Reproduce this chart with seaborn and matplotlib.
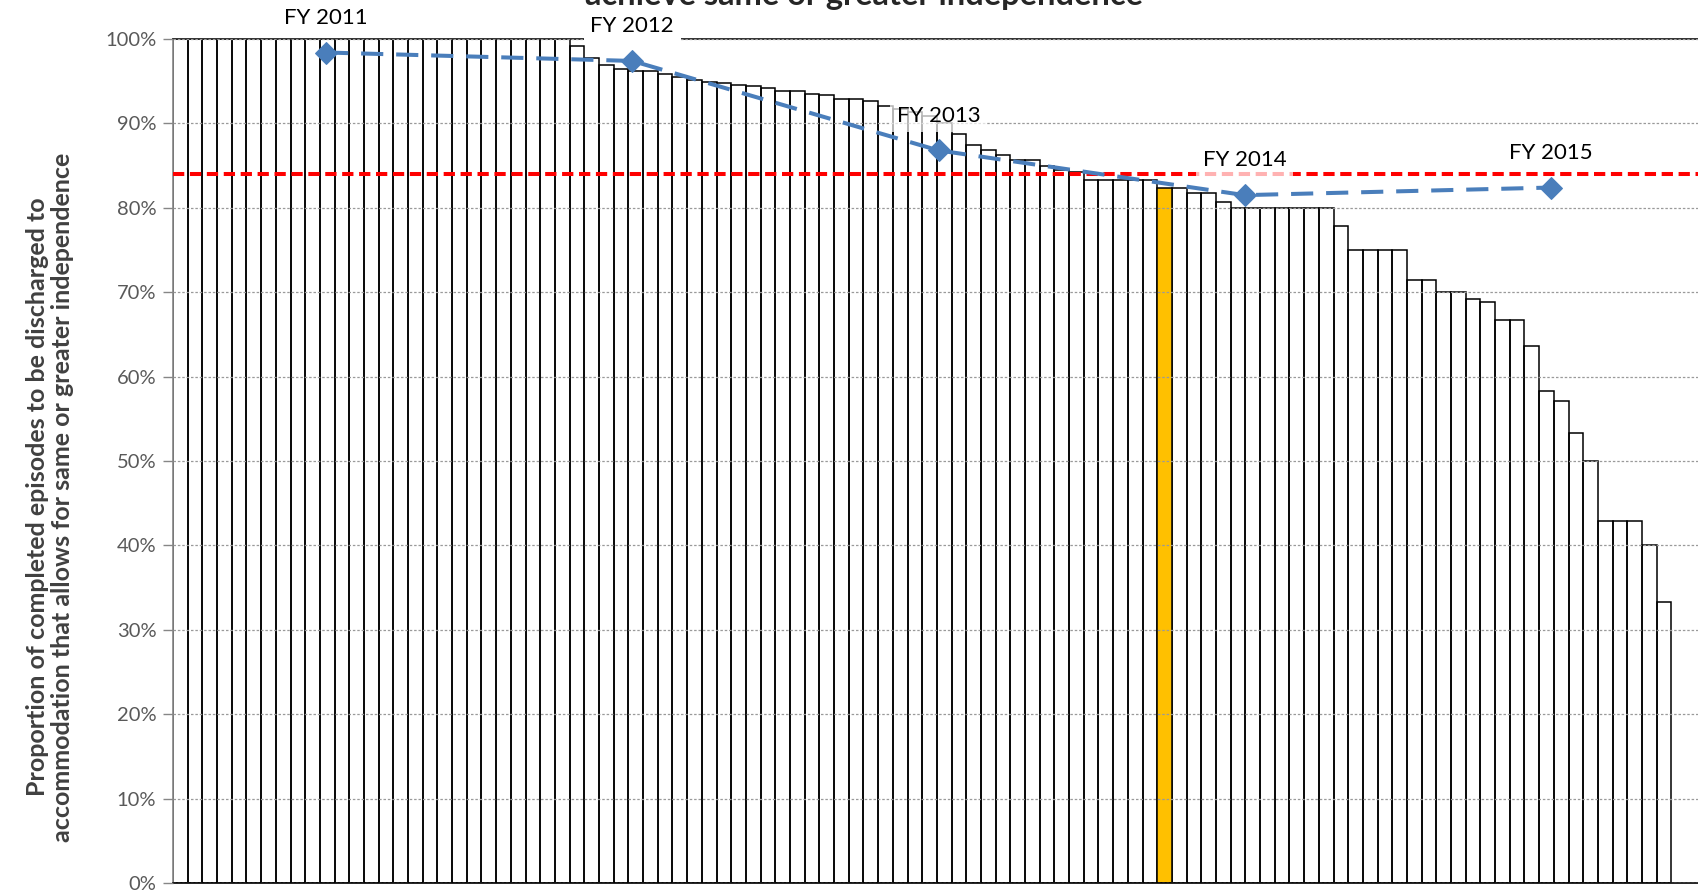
import numpy as np
import pandas as pd
import matplotlib
matplotlib.use("Agg")
import matplotlib.pyplot as plt
import seaborn as sns

# ---------------- data ----------------
pct_values = [
    100, 100, 100, 100, 100, 100, 100, 100, 100, 100,
    100, 100, 100, 100, 100, 100, 100, 100, 100, 100,
    100, 100, 100, 100, 100, 100, 100, 99.2, 97.8, 96.9,
    96.4, 96.2, 96.2, 95.9, 95.5, 95.1, 94.9, 94.8, 94.6, 94.4,
    94.2, 93.8, 93.8, 93.5, 93.4, 92.9, 92.9, 92.7, 92.1, 91.7,
    91.3, 90.9, 90.0, 88.8, 87.5, 86.9, 86.3, 85.7, 85.7, 84.9,
    84.5, 84.3, 83.3, 83.3, 83.3, 83.3, 83.3, 82.4, 82.3, 81.7,
    81.7, 80.7, 80.0, 80.0, 80.0, 80.0, 80.0, 80.0, 80.0, 77.8,
    75.0, 75.0, 75.0, 75.0, 71.4, 71.4, 70.0, 70.0, 69.2, 68.8,
    66.7, 66.7, 63.6, 58.3, 57.1, 53.3, 50.0, 42.9, 42.9, 42.9,
    40.0, 33.3,
]
providers = [f"P{i + 1:03d}" for i in range(len(pct_values))]
highlight_index = 67  # the highlighted (orange) provider

fy_labels = ["FY 2011", "FY 2012", "FY 2013", "FY 2014", "FY 2015"]
fy_values = [98.4, 97.4, 86.8, 81.5, 82.4]

target_value = 84.0

ylabel_text = ("Proportion of completed episodes to be discharged to\n"
               "accommodation that allows for same or greater independence")
title_text = "achieve same or greater independence"

# ---------------- styling ----------------
sns.set_theme(style="white")
plt.rcParams["font.family"] = ["Lato", "DejaVu Sans"]

W, H = 1699, 891
fig = plt.figure(figsize=(W / 100, H / 100), dpi=100)
fig.patch.set_facecolor("white")

ax_left, ax_bottom = 173 / W, 8 / H
ax_w, ax_h = 1531 / W, 844 / H
ax = fig.add_axes([ax_left, ax_bottom, ax_w, ax_h])

df = pd.DataFrame({
    "provider": providers,
    "pct": pct_values,
    "highlight": ["yes" if i == highlight_index else "no" for i in range(len(pct_values))],
})

sns.barplot(data=df, x="provider", y="pct", hue="highlight", order=providers,
            palette={"no": "white", "yes": "#FFC000"}, dodge=False, width=1.0,
            saturation=1.0, edgecolor="black", linewidth=1.1, legend=False,
            ax=ax, zorder=2)

# make plain bars see-through so gridlines show inside them
for p in ax.patches:
    fc = p.get_facecolor()
    if fc[0] > 0.99 and fc[1] > 0.99 and fc[2] > 0.99:
        p.set_facecolor((1, 1, 1, 0))

ax.set_xlim(-0.5, 103.72)
ax.set_ylim(0, 100)
ax.set_xlabel("")
ax.set_ylabel("")
ax.set_xticks([])
ax.set_yticks(np.arange(0, 101, 10))
ax.set_yticklabels([f"{v}%" for v in range(0, 101, 10)], fontsize=14.5, color="#595959")
ax.tick_params(axis="y", length=7, width=1, color="#868686", pad=5, left=True)

ax.yaxis.grid(True, color="#9a9a9a", linestyle=(0, (2, 1.5)), linewidth=0.9, zorder=1)
ax.set_axisbelow(False)
for g in ax.get_ygridlines():
    g.set_zorder(1)

ax.spines["top"].set_color("#222222")
ax.spines["top"].set_linewidth(1.3)
ax.spines["left"].set_color("#868686")
ax.spines["left"].set_linewidth(1.2)
ax.spines["bottom"].set_color("black")
ax.spines["bottom"].set_linewidth(1.2)
ax.spines["right"].set_visible(False)

# target line
ax.axhline(target_value, color="#FF0000", linewidth=2.9,
           linestyle=(0, (2.8, 1.4)), zorder=4)

# trend line on a secondary category axis
ax2 = ax.twiny()
sns.lineplot(x=list(range(len(fy_values))), y=fy_values, ax=ax2, color="#4A7EBB",
             linewidth=2.9, linestyle=(0, (5.5, 3.2)), marker="D", markersize=11,
             markeredgecolor="#4A7EBB", zorder=5)
ax2.set_xlim(-0.5, 4.5)
ax2.set_ylim(0, 100)
ax2.set_xticks([])
ax2.set_xlabel("")
ax2.set_ylabel("")
for s in ax2.spines.values():
    s.set_visible(False)

box_alpha = [1.0, 1.0, 0.7, 0.7, 0.7]
for i, (lab, val) in enumerate(zip(fy_labels, fy_values)):
    ax2.annotate(lab, (i, val), xytext=(0, 25), textcoords="offset points",
                 ha="center", va="center", fontsize=16, color="black", zorder=6,
                 annotation_clip=False,
                 bbox=dict(boxstyle="square,pad=0.3", fc="white", ec="none",
                           alpha=box_alpha[i]))

# y label (two lines) and cut-off title
fig.text(50 / W, 1 - 497 / H, ylabel_text, rotation=90, ha="center", va="center",
         multialignment="center", fontsize=18, fontweight="bold", color="#404040",
         linespacing=1.15)
fig.text(864 / W, 1 - 5 / H, title_text, ha="center", va="baseline",
         fontsize=23.5, fontweight="bold", color="#262626")

fig.savefig("out.png", dpi=100, facecolor="white")
